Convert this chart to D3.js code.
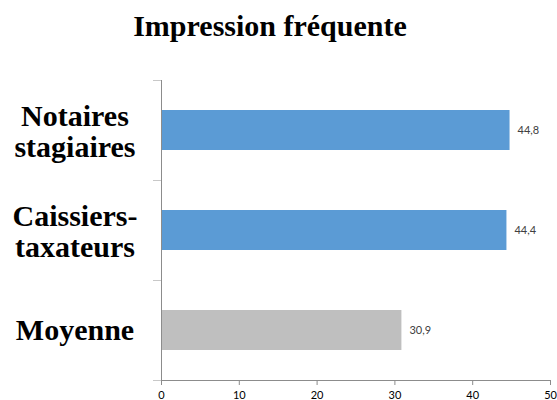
<!DOCTYPE html>
<html><head><meta charset="utf-8">
<script src="https://cdn.jsdelivr.net/npm/d3@7"></script>
<style>body{margin:0;background:#fff}</style>
</head><body>
<svg id="c" width="557" height="400"></svg>
<script>
const categories = [["Notaires","stagiaires"],["Caissiers-","taxateurs"],["Moyenne"]];
const values = [44.8, 44.4, 30.9];
const labels = ["44,8","44,4","30,9"];
const colors = ["#5B9BD5","#5B9BD5","#BFBFBF"];
const xTicks = [0,10,20,30,40,50];
const title = "Impression fréquente";

const svg = d3.select("#c");
const x = d3.scaleLinear().domain([0,50]).range([161,550]);
const y = d3.scaleBand().domain(d3.range(categories.length)).range([80,380]).paddingInner(0.6).paddingOuter(0.3);
const yb = d3.scaleBand().domain(d3.range(categories.length)).range([80,380]);
const axisColor = "#8c8c8c";

svg.append("text").attr("x",270).attr("y",36).attr("text-anchor","middle")
  .attr("font-family","Liberation Serif").attr("font-weight","bold").attr("font-size",30)
  .text(title);

// bars
svg.selectAll("rect.bar").data(values).join("rect")
  .attr("x",x(0)).attr("y",(d,i)=>y(i)).attr("width",d=>x(d)-x(0)).attr("height",y.bandwidth())
  .attr("fill",(d,i)=>colors[i]);

// value labels
svg.selectAll("text.val").data(values).join("text")
  .attr("x",d=>x(d)+8).attr("y",(d,i)=>y(i)+y.bandwidth()/2+4)
  .attr("font-family","Lato, Open Sans").attr("font-size",11).attr("fill","#404040")
  .text((d,i)=>labels[i]);

// x axis
const gx = svg.append("g").attr("transform","translate(0,380)")
  .call(d3.axisBottom(x).tickValues(xTicks).tickSize(5).tickPadding(6).tickFormat(d3.format("d")));
gx.select(".domain").attr("stroke",axisColor).attr("d","M"+x(0)+",0.5H"+x(50));
gx.selectAll(".tick line").attr("stroke",axisColor);
gx.selectAll(".tick text").attr("font-family","Lato, Open Sans").attr("font-size",11).attr("fill","#000");

// y axis line and separators
svg.append("line").attr("x1",161.5).attr("x2",161.5).attr("y1",80).attr("y2",380).attr("stroke",axisColor);
svg.selectAll("line.sep").data([80,180,280,380]).join("line")
  .attr("x1",153).attr("x2",161).attr("y1",d=>d+0.5).attr("y2",d=>d+0.5).attr("stroke","#c8c8c8");

// category labels
categories.forEach((lines,i)=>{
  const c = yb(i)+yb.bandwidth()/2;
  const t = svg.append("text").attr("text-anchor","middle")
    .attr("font-family","Liberation Serif").attr("font-weight","bold").attr("font-size",30);
  const start = lines.length===1 ? c+10 : c-4;
  lines.forEach((l,j)=>t.append("tspan").attr("x",75).attr("y",start+j*31).text(l));
});
</script>
</body></html>
